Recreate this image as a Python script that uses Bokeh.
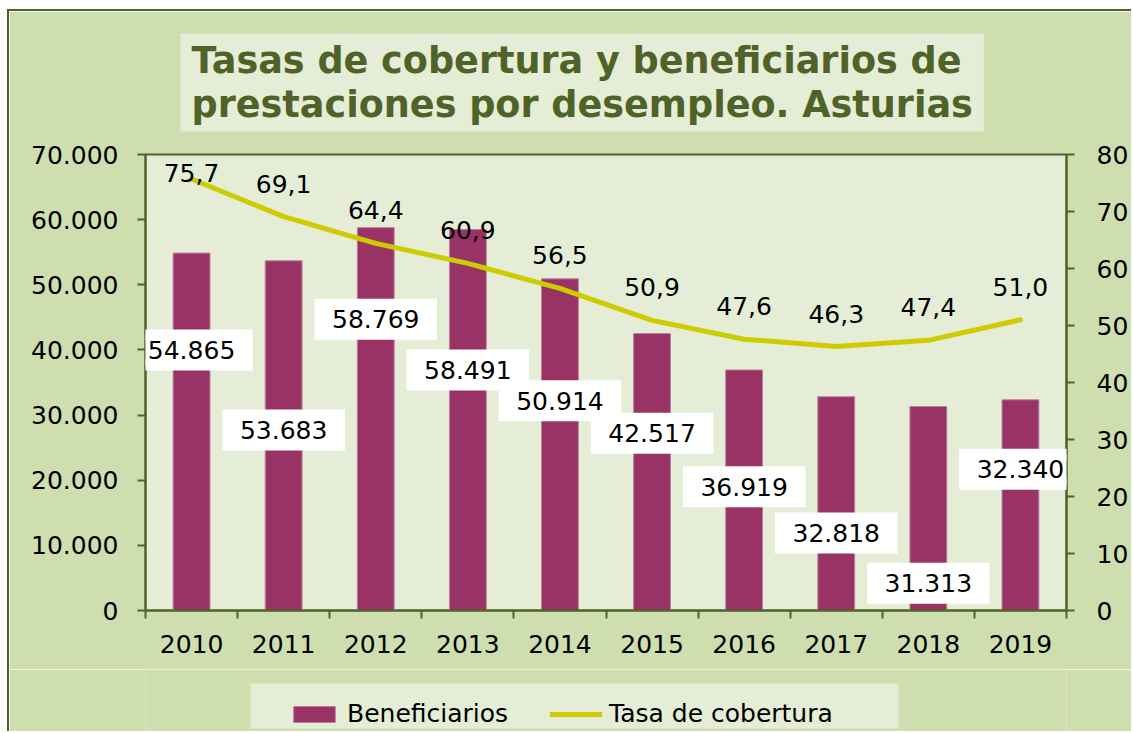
from bokeh.plotting import figure
from bokeh.layouts import column
from bokeh.models import (Range1d, LinearAxis, FixedTicker, Label, LabelSet,
                          ColumnDataSource, Legend, LegendItem, BoxAnnotation)
from bokeh.core.properties import value
from bokeh.embed import file_html
from bokeh.resources import INLINE

# ---- data ----
years = ["2010", "2011", "2012", "2013", "2014", "2015", "2016", "2017", "2018", "2019"]
beneficiarios = [54865, 53683, 58769, 58491, 50914, 42517, 36919, 32818, 31313, 32340]
tasa = [75.7, 69.1, 64.4, 60.9, 56.5, 50.9, 47.6, 46.3, 47.4, 51.0]
benef_labels = ["54.865", "53.683", "58.769", "58.491", "50.914",
                "42.517", "36.919", "32.818", "31.313", "32.340"]
tasa_labels = ["75,7", "69,1", "64,4", "60,9", "56,5", "50,9", "47,6", "46,3", "47,4", "51,0"]
left_ticks = [0, 10000, 20000, 30000, 40000, 50000, 60000, 70000]
left_tick_labels = ["0", "10.000", "20.000", "30.000", "40.000", "50.000", "60.000", "70.000"]
right_ticks = [0, 10, 20, 30, 40, 50, 60, 70, 80]
title_text = "Tasas de cobertura y beneficiarios de\nprestaciones por desempleo. Asturias"
series_names = ["Beneficiarios", "Tasa de cobertura"]

# ---- label placement (layout only) ----
benef_label_y = [40000, 27700, 44700, 36900, 32200, 27200, 19000, 11900, 4200, 21700]
tasa_label_offset = [-3, 24, 24, 24, 24, 24, 24, 24, 24, 24]

# ---- styles ----
OUTER = "#cfdeae"
INNER = "#e5edd6"
DARK = "#4f6228"
BAR = "#993366"
BAR_EDGE = "#b8809c"
LINE = "#cccc00"
FONT = "DejaVu Sans"
FS = "25px"
W = 1122
FRAME_W = 921

xpos = list(range(len(years)))

# ================= main chart =================
p = figure(frame_width=FRAME_W, frame_height=456, x_range=Range1d(-0.5, len(years) - 0.5),
           y_range=Range1d(0, 70000), output_backend="svg", toolbar_location=None,
           min_border_left=136, min_border_right=65, min_border_top=143,
           min_border_bottom=59)
p.extra_y_ranges = {"tasa": Range1d(0, 80)}
p.border_fill_color = OUTER
p.background_fill_color = INNER
p.outline_line_color = DARK
p.outline_line_width = 2
p.xgrid.grid_line_color = None
p.ygrid.grid_line_color = None

src = ColumnDataSource(dict(x=xpos, benef=beneficiarios, tasa=tasa,
                            tlab=tasa_labels, toff=tasa_label_offset))

p.vbar(x="x", top="benef", width=0.4, bottom=0, source=src,
       fill_color=BAR, line_color=BAR_EDGE, line_width=1)
p.line(x="x", y="tasa", source=src, y_range_name="tasa",
       line_color=LINE, line_width=5, line_cap="round", line_join="round")

# x axis
xa = p.xaxis[0]
xa.ticker = FixedTicker(ticks=xpos, minor_ticks=[i - 0.5 for i in range(len(years) + 1)])
xa.major_label_overrides = {i: y for i, y in zip(xpos, years)}
xa.major_tick_out = 0
xa.major_tick_in = 0
xa.minor_tick_out = 8
xa.minor_tick_in = 0
xa.minor_tick_line_color = DARK
xa.minor_tick_line_width = 2
xa.axis_line_color = DARK
xa.axis_line_width = 2
xa.major_label_text_font = FONT
xa.major_label_text_font_size = FS
xa.major_label_text_color = "black"
xa.major_label_standoff = 16

# left axis
ya = p.yaxis[0]
ya.ticker = FixedTicker(ticks=left_ticks)
ya.major_label_overrides = {t: l for t, l in zip(left_ticks, left_tick_labels)}
ya.major_tick_out = 8
ya.major_tick_in = 0
ya.minor_tick_line_color = None
ya.major_tick_line_color = DARK
ya.major_tick_line_width = 2
ya.axis_line_color = DARK
ya.axis_line_width = 2
ya.major_label_text_font = FONT
ya.major_label_text_font_size = FS
ya.major_label_text_color = "black"
ya.major_label_standoff = 19

# right axis
ra = LinearAxis(y_range_name="tasa", ticker=FixedTicker(ticks=right_ticks))
ra.major_tick_out = 8
ra.major_tick_in = 0
ra.minor_tick_line_color = None
ra.major_tick_line_color = DARK
ra.major_tick_line_width = 2
ra.axis_line_color = DARK
ra.axis_line_width = 2
ra.major_label_text_font = FONT
ra.major_label_text_font_size = FS
ra.major_label_text_color = "black"
ra.major_label_standoff = 22
p.add_layout(ra, "right")

# bar value labels
for xi, yi, txt in zip(xpos, benef_label_y, benef_labels):
    p.add_layout(Label(x=xi, y=yi, text=txt, text_font=FONT, text_font_size=FS,
                       text_color="black", text_align="center", text_baseline="middle",
                       background_fill_color="white", border_line_color="white",
                       border_line_width=11, border_line_join="miter",
                       padding=dict(left=12, right=12, top=6, bottom=6)))

# line value labels
p.add_layout(LabelSet(x="x", y="tasa", text="tlab", source=src, y_range_name="tasa",
                      y_offset="toff", text_font=value(FONT), text_font_size=value(FS),
                      text_color="black", text_align="center",
                      text_baseline="alphabetic"))

# title
p.title.text = title_text
p.title.align = "left"
p.title.vertical_align = "top"
p.title.offset = 35
p.title.standoff = 42
p.title.text_font = FONT
p.title.text_font_style = "bold"
p.title.text_font_size = "36.6px"
p.title.text_color = DARK
p.title.text_line_height = 1.045
p.title.background_fill_color = INNER
p.title.padding = (11, 5)

# ================= legend strip =================
p2 = figure(width=W, height=62, x_range=Range1d(0, FRAME_W), y_range=Range1d(0, 62),
            output_backend="svg", toolbar_location=None, min_border=0,
            x_axis_location=None, y_axis_location=None)
p2.grid.visible = False
p2.outline_line_color = None
p2.background_fill_color = OUTER
p2.border_fill_color = OUTER

# legend swatch renderers (they draw nothing in the plot area)
nan = float("nan")
leg_bar = p2.vbar(x=[nan], top=[nan], width=0.4, fill_color=BAR, line_color=BAR_EDGE)
leg_line = p2.line(x=[nan], y=[nan], line_color=LINE, line_width=5, line_cap="round")

p2.add_layout(BoxAnnotation(left=105, right=753, bottom=3, top=48,
                            fill_color=INNER, fill_alpha=1, line_color=None))
legend = Legend(items=[LegendItem(label=series_names[0], renderers=[leg_bar]),
                       LegendItem(label=series_names[1], renderers=[leg_line])],
                orientation="horizontal", location=(143, 3), margin=0,
                padding=7, spacing=42, label_standoff=7, glyph_width=52,
                glyph_height=20, label_height=29, label_text_font=FONT,
                label_text_font_size=FS, label_text_color="black",
                background_fill_alpha=0, border_line_color=None)
p2.add_layout(legend)

layout = column(p, p2, spacing=0)
layout.styles = {"margin-left": "7px", "margin-top": "9px",
                 "border-left": f"2px solid {DARK}", "border-top": f"2px solid {DARK}"}

open("out.html", "w").write(file_html(layout, INLINE))
